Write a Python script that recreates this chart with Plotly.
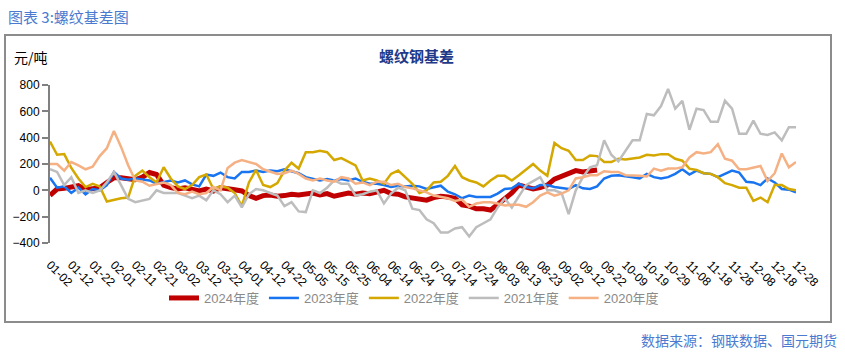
import plotly.graph_objects as go

# ---- data ----
date_labels = ["01-02", "01-12", "01-22", "02-01", "02-11", "02-21", "03-02", "03-12", "03-22",
               "04-01", "04-12", "04-22", "05-05", "05-15", "05-25", "06-04", "06-14", "06-24",
               "07-04", "07-14", "07-24", "08-03", "08-13", "08-23", "09-02", "09-12", "09-22",
               "10-09", "10-19", "10-29", "11-08", "11-18", "11-28", "12-08", "12-18", "12-28"]
points_per_label = 3

basis_2024 = [-38, 10, 15, 25, 35, 5, 10, 20, 60, 95, 95, 85, 80, 100, 135, 120, 40, 20, 10, 20,
              5, -5, 10, -5, 20, 15, 5, -5,
              -40, -60, -40, -35, -45, -40, -30, -35, -30, -20, -35, -25, -45, -30, -20, -30, -20, -25, -10, 0,
              -25, -30, -50, -60, -65, -75, -55,
              -45, -50, -60, -110, -120, -140, -140, -150, -110, -60, -20, 40, 20, 10, 20, 40, 85, 110, 135, 150,
              140, 150, 155]
basis_2023 = [95, 20, 30, -20, 20, -30, 10, 0, 40, 140, 90, 80, 90, 85, 75, 50, 60, 75, 60, 75,
              45, 30, 120, 110, 135, 100, 90, 140,
              140, 150, 140, 150, 145, 160, 145, 130, 100, 90, 75, 85, 75, 85, 75, 90, 65, 50, 50, 40,
              25, 35, 30, 35, 30, 10, 25,
              35, -10, -30, -60, -40, -50, -50, -50, -25, 10, 15, 50, 25, 15, 40, 40, 25, 20, 10, 40,
              15, 10, 30, 90, 110, 115, 110,
              100, 90, 125, 100, 90, 100, 125, 160, 120, 150, 130, 125, 100, 125, 150, 135, 65, 60, 40, 90,
              60, 10, 5, -15]
basis_2022 = [370, 270, 275, 170, 90, 25, 50, 30, -85, -70, -60, -55, 110, 150, 100, 60, 175, 90, 30, 10,
              40, 100, 120, 10, 30, 20, -20, -120,
              60, 155, 40, 25, 55, 150, 210, 165, 290, 290, 300, 290, 230, 245, 220, 190, 75, 90, 75, 50,
              125, 150, 100, 50, -20, 0, 60,
              65, 110, 185, 100, 75, 60, 30, 75, 110, 110, 75, 115, 160, 200, 150, 110, 360, 320, 300, 230,
              230, 265, 260, 215, 215, 240, 235,
              240, 250, 270, 265, 275, 275, 240, 225, 165, 155, 130, 125, 100, 55, 40, 20, 20, -80, -55, -90,
              40, 40, 10, 0]
basis_2021 = [160, 140, 40, 100, -20, 0, -20, 0, 60, 140, 40, -65, -90, -75, -65, 0, -20, -20, -20, -40,
              -60, -40, -75, 0, -30, -90, -40, -130,
              -30, 10, 0, -20, -40, -120, -90, -160, -165, 0, -20, 20, 75, 50, 50, -40, -30, -10, 0, -100,
              -25, 20, 0, -140, -150, -220, -250,
              -320, -320, -290, -280, -350, -280, -250, -220, -130, -60, -130, -40, 40, 70, 100, 0, 0, -20, -180, 0,
              100, 175, 190, 380, 270, 220, 300,
              380, 380, 580, 570, 640, 770, 620, 680, 460, 620, 610, 520, 520, 680, 620, 430, 430, 530, 430, 420,
              440, 380, 480, 480]
basis_2020 = [200, 200, 150, 215, 190, 160, 180, 260, 320, 450, 330, 190, 75, 65, 35, 50, 60, 40, -20, -30,
              -10, -30, -20, 25, 0, 170, 210, 230,
              215, 200, 160, 140, 125, 130, 150, 125, 90, 75, 90, 75, 65, 100, 90, 50, 60, 40, 65, 65,
              40, 50, 25, 15, 0, -15, -40,
              -50, -60, -80, -70, -125, -100, -90, -90, -100, -115, -110, -110, -125, -90, -40, -15, -40, -25, 0, 90,
              100, 115, 115, 145, 140, 140, 115,
              115, 110, 105, 165, 150, 165, 165, 175, 250, 290, 280, 290, 350, 240, 225, 160, 160, 170, 185, 70,
              130, 280, 175, 215]

series_names = ["2024年度", "2023年度", "2022年度", "2021年度", "2020年度"]
series_values = [basis_2024, basis_2023, basis_2022, basis_2021, basis_2020]
series_colors = ["#C00000", "#1874F0", "#D4A800", "#BDBDBD", "#F5B183"]
series_widths = [5, 2.5, 2.5, 2.5, 2.5]

# ---- figure geometry (pixels) ----
W, H = 845, 358
L, R, T, B = 50, 49, 85, 115
PW, PH = W - L - R, H - T - B


def px_x(x):
    return (x - L) / PW


def px_y(y):
    return (H - B - y) / PH


n_points = len(date_labels) * points_per_label - (points_per_label - 1)
tick_positions = [k * points_per_label for k in range(len(date_labels))]

fig = go.Figure()
for name, vals, col, wd in zip(series_names, series_values, series_colors, series_widths):
    fig.add_trace(go.Scatter(
        x=list(range(len(vals))), y=vals, name=name, mode="lines",
        line=dict(color=col, width=wd), hoverinfo="skip",
    ))

FONT = "Liberation Sans, Noto Sans CJK SC, sans-serif"

fig.update_layout(
    width=W, height=H,
    margin=dict(l=L, r=R, t=T, b=B, autoexpand=False),
    paper_bgcolor="white", plot_bgcolor="white",
    font=dict(family=FONT, size=12, color="black"),
    showlegend=True,
    legend=dict(orientation="h", x=px_x(164), y=px_y(298), xanchor="left", yanchor="middle",
                font=dict(size=13, color="#8a8a8a", family=FONT), bgcolor="rgba(0,0,0,0)",
                itemwidth=30, traceorder="normal"),
    xaxis=dict(range=[0, n_points - 1], tickmode="array", tickvals=tick_positions, ticktext=date_labels,
               tickangle=45, ticks="outside", ticklen=9, tickcolor="rgba(0,0,0,0)",
               showline=False, showgrid=False, zeroline=False, automargin=False,
               tickfont=dict(size=12, color="black", family=FONT)),
    xaxis2=dict(range=[0, n_points - 1], overlaying="x", anchor="free", position=1 / 3,
                tickmode="linear", tick0=0.6, dtick=1.2, ticks="outside", ticklen=5,
                tickcolor="#808080", tickwidth=2, showline=True, linecolor="#808080", linewidth=2,
                showticklabels=False, showgrid=False, zeroline=False),
    yaxis=dict(range=[-400, 800], tick0=0, dtick=200, showline=True, linecolor="#808080", linewidth=2,
               ticks="outside", ticklen=6, tickcolor="#808080", tickwidth=2, automargin=False,
               showgrid=False, zeroline=False, tickfont=dict(size=12, color="black", family=FONT)),
)

fig.add_shape(type="rect", xref="paper", yref="paper",
              x0=px_x(5), x1=px_x(831), y0=px_y(322), y1=px_y(35),
              line=dict(color="#8c8c8c", width=2), fillcolor="rgba(0,0,0,0)", layer="below")

fig.add_annotation(text="图表 3:螺纹基差图", xref="paper", yref="paper", x=px_x(6), y=px_y(17),
                   xanchor="left", yanchor="middle", showarrow=False,
                   font=dict(size=15, color="#4a7bd0", family="Noto Sans CJK SC"))
fig.add_annotation(text="元/吨", xref="paper", yref="paper", x=px_x(12), y=px_y(57),
                   xanchor="left", yanchor="middle", showarrow=False,
                   font=dict(size=14, color="black", family="Noto Sans CJK SC"))
fig.add_annotation(text="<b>螺纹钢基差</b>", xref="paper", yref="paper", x=px_x(416), y=px_y(56),
                   xanchor="center", yanchor="middle", showarrow=False,
                   font=dict(size=15, color="#1f3a8a", family="Noto Sans CJK SC"))
fig.add_annotation(text="数据来源：钢联数据、国元期货", xref="paper", yref="paper", x=px_x(839), y=px_y(340),
                   xanchor="right", yanchor="middle", showarrow=False,
                   font=dict(size=14, color="#4a7bd0", family="Noto Sans CJK SC"))

fig.write_html("out.html", config={"displayModeBar": False, "staticPlot": True},
               post_script="document.body.style.margin='0';document.body.style.overflow='hidden';")
